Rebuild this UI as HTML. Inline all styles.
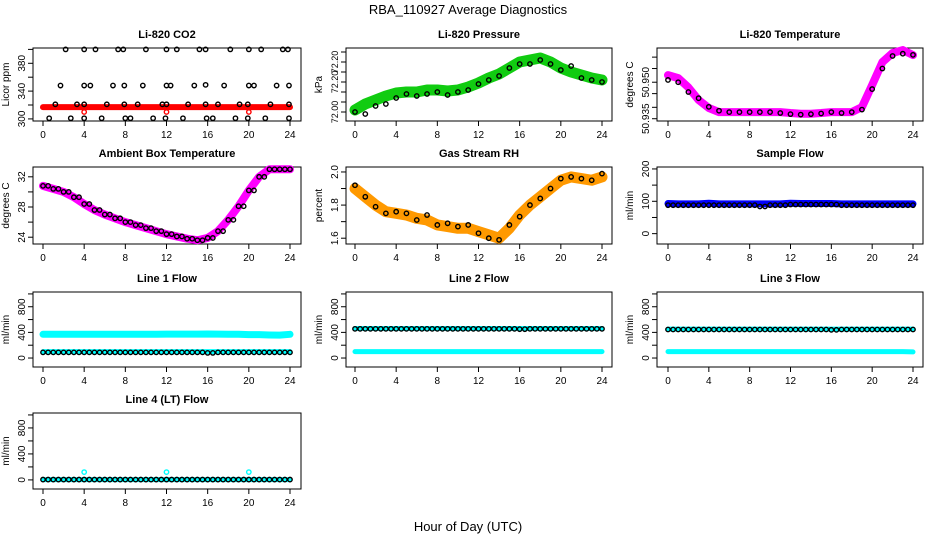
<!DOCTYPE html>
<html><head><meta charset="utf-8"><style>
body{margin:0;background:#fff}
svg{display:block;font-family:"Liberation Sans",sans-serif}
</style></head><body>
<svg id="c" width="936" height="540" viewBox="0 0 936 540">
<text x="468" y="14" font-size="13" text-anchor="middle">RBA_110927  Average Diagnostics</text>
<text x="468" y="531" font-size="13" text-anchor="middle">Hour of Day (UTC)</text>
</svg>
<script>
const hours = [0,1,2,3,4,5,6,7,8,9,10,11,12,13,14,15,16,17,18,19,20,21,22,23,24];
const xTicks = [0,4,8,12,16,20,24];
const co2Band = [317,317,317,317,317,317,317,317,317,317,317,317,317,317,317,317,317,317,317,317,317,317,317,317,317];
const co2PtsH = [2.2,4,5.1,7.3,7.8,10,12,13,15.2,15.8,18.2,20,21.2,23.3,23.8,1.7,4,4.6,6.8,7.9,9.7,12,12.4,14.7,15.8,17.6,20,20.5,22.7,23.9,1.2,3.3,4,6.2,7.9,9.2,11.6,12,14.1,15.8,17,19.1,19.9,22.1,23.9,0.6,2.7,4,5.7,8,8.5,10.7,11.9,13.6,15.9,16.5,18.7,19.9,21.6,23.9];
const co2PtsV = [400,400,400,400,400,400,400,400,400,400,400,400,400,400,400,348,348,348,348,348,348,348,348,348,349,348,348,348,348,348,321,321,321,321,321,321,321,321,321,321,321,321,321,321,321,301,301,301,301,301,301,301,301,301,301,301,301,301,301,301];
const presBand = [72.01,72.04,72.06,72.08,72.095,72.10,72.10,72.11,72.11,72.105,72.11,72.125,72.145,72.17,72.19,72.22,72.25,72.26,72.27,72.25,72.22,72.20,72.185,72.17,72.16];
const presPts = [72.00,71.99,72.03,72.04,72.07,72.09,72.08,72.09,72.10,72.085,72.10,72.11,72.14,72.16,72.18,72.22,72.24,72.24,72.26,72.24,72.21,72.23,72.17,72.16,72.15];
const tempBand = [50.9501,50.9488,50.9447,50.9392,50.9357,50.9339,50.9339,50.9339,50.9339,50.9339,50.9339,50.9339,50.9335,50.9332,50.9332,50.9335,50.9339,50.9339,50.9339,50.9361,50.9458,50.9558,50.9598,50.9611,50.9589];
const tempPts = [50.9480,50.9470,50.9427,50.9400,50.9362,50.9345,50.9339,50.9339,50.9339,50.9339,50.9339,50.9335,50.9330,50.9328,50.9330,50.9333,50.9339,50.9335,50.9339,50.9350,50.9440,50.9530,50.9585,50.9595,50.9590];
const ambBand = [30.8,30.4,30.0,29.3,28.4,27.6,27.0,26.5,26.0,25.6,25.2,24.8,24.4,24.1,23.8,23.6,23.9,24.8,26.3,28.1,30.2,32.0,33.0,33.0,33.0];
const rhBand = [1.90,1.85,1.80,1.76,1.75,1.74,1.72,1.71,1.68,1.67,1.66,1.66,1.64,1.62,1.60,1.66,1.74,1.80,1.85,1.90,1.95,1.97,1.96,1.95,1.97];
const rhPts = [1.92,1.85,1.79,1.75,1.76,1.75,1.71,1.74,1.68,1.69,1.67,1.68,1.63,1.60,1.59,1.68,1.73,1.80,1.84,1.90,1.96,1.97,1.96,1.95,1.99];
const sampBand = [93,92,92,92,94,92,92,92,92,92,92,92,94,93,93,93,93,92,92,92,92,92,92,92,92];
const sampPts = [88,88,88,88,88,88,88,88,88,84,88,88,90,90,90,90,90,88,88,88,88,88,88,88,88];
const l1High = [370,370,370,370,370,370,370,370,370,370,370,370,372,372,372,372,375,372,370,370,365,365,360,358,370];
const l1Low = [100,100,100,100,100,100,100,100,100,100,100,100,100,100,100,100,100,100,100,100,100,100,100,100,100];
const l1Pts = [88,88,88,88,88,88,88,88,88,88,88,88,88,88,88,88,80,88,88,88,88,88,88,88,88];
const l2High = [460,460,460,460,460,460,460,460,460,460,460,460,460,460,460,460,460,460,460,460,460,460,460,460,460];
const l2Low = [100,100,100,100,100,100,100,100,100,100,100,100,100,100,100,100,100,100,100,100,100,100,100,100,100];
const l2Pts = [455,455,455,455,455,455,455,455,455,455,455,455,455,455,455,455,450,455,455,455,455,455,455,455,455];
const l3High = [450,450,450,450,450,450,450,450,450,450,450,450,450,450,450,450,450,450,450,450,450,450,450,450,450];
const l3Low = [100,100,100,100,100,100,100,100,100,100,100,100,100,100,100,100,100,100,100,100,100,100,100,100,95];
const l3Pts = [445,445,445,445,445,445,445,445,445,445,445,445,445,445,445,445,440,445,445,445,445,445,445,445,445];
const l4Band = [5,5,5,5,5,5,5,5,5,5,5,5,5,5,5,5,5,5,5,5,5,5,5,5,5];
const l4Outliers = [120,120,120];
const l4OutH = [4,12,20];
const flowTicks = [0,200,400,600,800,1000];
const flowLabels = ["0","","400","","800",""];

const NS="http://www.w3.org/2000/svg";
const svg=document.getElementById('c');
function mk(tag,attrs,parent){const e=document.createElementNS(NS,tag);for(const k in attrs)e.setAttribute(k,attrs[k]);(parent||svg).appendChild(e);return e;}
const cols=[{l:33,r:301,x0:43,x1:290},{l:346,r:612,x0:355,x1:602},{l:657,r:923,x0:668,x1:913}];
const rows=[{t:48,b:121},{t:167,b:244},{t:292,b:367},{t:413,b:489}];

function panel(name,ci,ri,ylim,yt,yl,title,ylab,lfs){
  const c=cols[ci],r=rows[ri];
  const g=mk('g',{});
  
  
  const xs=h=>c.x0+(c.x1-c.x0)*h/24;
  const ys=v=>r.b-(v-ylim[0])/(ylim[1]-ylim[0])*(r.b-r.t);
  const box=mk('rect',{x:c.l,y:r.t,width:c.r-c.l,height:r.b-r.t,fill:'none',stroke:'#000','stroke-width':1},g);
  
  
  const tt=mk('text',{x:(c.l+c.r)/2,y:r.t-10,'font-size':11,'font-weight':'bold','text-anchor':'middle'},g);
  tt.textContent=title;
  
  
  const yt2=mk('text',{x:0,y:0,'font-size':10,'text-anchor':'middle',transform:`translate(${c.l-24},${(r.t+r.b)/2}) rotate(-90)`},g);
  yt2.textContent=ylab;
  
  
  xTicks.forEach(h=>{
    mk('line',{x1:xs(h),x2:xs(h),y1:r.b,y2:r.b+5,stroke:'#000'},g);
    const t=mk('text',{x:xs(h),y:r.b+17,'font-size':10,'text-anchor':'middle'},g);
    t.textContent=h;
    
    
  });
  yt.forEach((v,i)=>{
    mk('line',{x1:c.l-5,x2:c.l,y1:ys(v),y2:ys(v),stroke:'#000'},g);
    if(yl[i]){
      const t=mk('text',{x:0,y:0,'font-size':lfs||10,'text-anchor':'middle',transform:`translate(${c.l-8},${ys(v)}) rotate(-90)`},g);
      t.textContent=yl[i];
      
      
    }
  });
  return {g,xs,ys};
}
function band(p,vals,color,w,name){
  const pts=vals.map((v,i)=>p.xs(hours[i])+','+p.ys(v)).join(' ');
  const e=mk('polyline',{points:pts,fill:'none',stroke:color,'stroke-width':w,'stroke-linejoin':'round','stroke-linecap':'round'},p.g);
  
  
}
function pts(p,hs,vals,color,name){
  vals.forEach((v,i)=>{
    const e=mk('circle',{cx:p.xs(hs[i]),cy:p.ys(v),r:2.2,fill:'none',stroke:color,'stroke-width':1.4},p.g);
    
    
  });
}
function dense(p,vals,color,name){
  vals.forEach((v,i)=>{
    [0,0.5].forEach(o=>{
      if(hours[i]+o>24)return;
      const e=mk('circle',{cx:p.xs(hours[i]+o),cy:p.ys(v),r:2.2,fill:'none',stroke:color,'stroke-width':1.4},p.g);
      
      
    });
  });
}

let p;
p=panel('co2',0,0,[297,402],[300,320,340,360,380,400],['300','','340','','380',''],'Li-820 CO2','Licor ppm');
band(p,co2Band,'#f00',6,'co2-band');
pts(p,[4,12,20],[310,310,310],'#f00','co2-outlier');
pts(p,co2PtsH,co2PtsV,'#000','co2-average-point');

p=panel('pressure',1,0,[71.955,72.32],[72.00,72.05,72.10,72.15,72.20,72.25,72.30],['72.00','','','72.20','','72.20',''],'Li-820 Pressure','kPa',9);
band(p,presBand,'#1c1',11,'pressure-band');
pts(p,hours,presPts,'#000','pressure-average-point');

p=panel('temperature',2,0,[50.930,50.962],[50.931,50.936,50.942,50.947,50.953,50.958],['50.935','','','50.950','',''],'Li-820 Temperature','degrees C');
band(p,tempBand,'#f0f',8,'temperature-band');
pts(p,hours,tempPts,'#000','temperature-average-point');

p=panel('ambient',0,1,[23.1,33.3],[24,26,28,30,32],['24','','28','','32'],'Ambient Box Temperature','degrees C');
band(p,ambBand,'#f0f',8,'ambient-band');
dense(p,ambBand,'#000','ambient-average-point');

p=panel('rh',1,1,[1.565,2.03],[1.6,1.7,1.8,1.9,2.0],['1.6','','1.8','','2.0'],'Gas Stream RH','percent');
band(p,rhBand,'#f90',11,'rh-band');
pts(p,hours,rhPts,'#000','rh-average-point');

p=panel('sample-flow',2,1,[-32,206],[0,50,100,150,200],['0','','100','','200'],'Sample Flow','ml/min');
band(p,sampBand,'#00f',7,'sample-flow-band');
dense(p,sampPts,'#000','sample-flow-average-point');

p=panel('line1',0,2,[-140,1030],flowTicks,flowLabels,'Line 1 Flow','ml/min');
band(p,l1High,'#0ff',7,'line1-high-band');
band(p,l1Low,'#0ff',5,'line1-low-band');
dense(p,l1Pts,'#000','line1-average-point');

p=panel('line2',1,2,[-140,1030],flowTicks,flowLabels,'Line 2 Flow','ml/min');
band(p,l2High,'#0ff',5,'line2-high-band');
band(p,l2Low,'#0ff',5,'line2-low-band');
dense(p,l2Pts,'#000','line2-average-point');

p=panel('line3',2,2,[-140,1030],flowTicks,flowLabels,'Line 3 Flow','ml/min');
band(p,l3High,'#0ff',5,'line3-high-band');
band(p,l3Low,'#0ff',5,'line3-low-band');
dense(p,l3Pts,'#000','line3-average-point');

p=panel('line4',0,3,[-140,1030],flowTicks,flowLabels,'Line 4 (LT) Flow','ml/min');
band(p,l4Band,'#0ff',5,'line4-band');
pts(p,l4OutH,l4Outliers,'#0ff','line4-outlier');
dense(p,l4Band,'#000','line4-average-point');
</script>
</body></html>
